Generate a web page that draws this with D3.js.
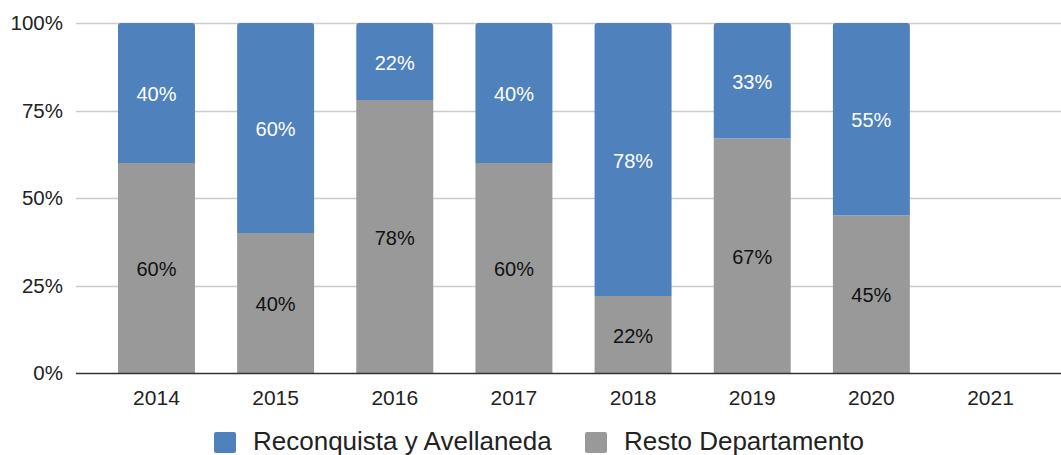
<!DOCTYPE html>
<html>
<head>
<meta charset="utf-8">
<script src="https://cdn.jsdelivr.net/npm/d3@7"></script>
<style>
  body { margin: 0; background: #fff; }
  svg { display: block; font-family: "Liberation Sans", Arial, sans-serif; }
</style>
</head>
<body>
<svg width="1061" height="455"></svg>
<script>
const years = ['2014', '2015', '2016', '2017', '2018', '2019', '2020', '2021'];
const reconquista = [40, 60, 22, 40, 78, 33, 55, null];
const resto = [60, 40, 78, 60, 22, 67, 45, null];
const yTicks = [0, 0.25, 0.5, 0.75, 1];
const seriesNames = ['Reconquista y Avellaneda', 'Resto Departamento'];
const colors = ['#4f81bd', '#999999'];

const svg = d3.select('svg');

const data = years.map((y, i) => ({year: y, resto: resto[i], reconquista: reconquista[i]}));

// escalas
const xScale = d3.scaleBand()
    .domain(years)
    .range([96.9, 1050.1])
    .paddingInner(0.354)
    .paddingOuter(0.177);

const yScale = d3.scaleLinear()
    .domain([0, 1])
    .range([373, 23]);

// lineas de cuadricula
svg.append('g')
    .selectAll('line').data(yTicks.filter(t => t > 0))
    .enter().append('line')
    .attr('x1', 76).attr('x2', 1061)
    .attr('y1', d => Math.round(yScale(d)) + 0.5)
    .attr('y2', d => Math.round(yScale(d)) + 0.5)
    .attr('stroke', '#cccccc')
    .attr('stroke-width', 1.5);

// eje y
const yAxis = d3.axisLeft(yScale)
    .tickValues(yTicks)
    .tickFormat(d3.format('.0%'))
    .tickSize(0)
    .tickPadding(0);

const yAxisG = svg.append('g')
    .attr('transform', 'translate(63,0)')
    .call(yAxis);
yAxisG.select('.domain').remove();
yAxisG.selectAll('text')
    .attr('font-size', 20.5)
    .attr('font-family', '"Liberation Sans", Arial, sans-serif')
    .attr('fill', '#222');

// pila
const stack = d3.stack().keys(['resto', 'reconquista']);
const stacked = stack(data.map(d => ({
    year: d.year,
    resto: d.resto == null ? 0 : d.resto / 100,
    reconquista: d.reconquista == null ? 0 : d.reconquista / 100
})));

const roundTop = (x, y0, y1, w, r) =>
    `M${x},${y0}V${y1 + r}Q${x},${y1} ${x + r},${y1}H${x + w - r}Q${x + w},${y1} ${x + w},${y1 + r}V${y0}Z`;

stacked.forEach((layer, li) => {
    const g = svg.append('g').attr('fill', colors[1 - li]);
    layer.forEach(seg => {
        if (seg[1] - seg[0] <= 0) return;
        const x = xScale(seg.data.year);
        const w = xScale.bandwidth();
        const yTop = yScale(seg[1]);
        const yBot = yScale(seg[0]);
        if (li === stacked.length - 1) {
            g.append('path').attr('d', roundTop(x, yBot, yTop, w, 3));
        } else {
            g.append('rect')
                .attr('x', x).attr('y', yTop)
                .attr('width', w).attr('height', yBot - yTop);
        }
        g.append('text')
            .attr('x', x + w / 2)
            .attr('y', (yTop + yBot) / 2 + 1)
            .attr('dy', '0.35em')
            .attr('text-anchor', 'middle')
            .attr('font-size', 20)
            .attr('fill', li === 1 ? '#ffffff' : '#111111')
            .text(Math.round((seg[1] - seg[0]) * 100) + '%');
    });
});

// linea base
svg.append('line')
    .attr('x1', 76).attr('x2', 1061)
    .attr('y1', yScale(0) + 0.5).attr('y2', yScale(0) + 0.5)
    .attr('stroke', '#333333')
    .attr('stroke-width', 1.5);

// eje x
const xAxisG = svg.append('g')
    .attr('transform', `translate(0, ${yScale(0)})`)
    .call(d3.axisBottom(xScale).tickSize(0).tickPadding(0));
xAxisG.select('.domain').remove();
xAxisG.selectAll('text')
    .attr('y', 32)
    .attr('dy', 0)
    .attr('font-size', 21)
    .attr('font-family', '"Liberation Sans", Arial, sans-serif')
    .attr('fill', '#222');

// leyenda
const legendItems = [
    {name: seriesNames[0], color: colors[0], x: 214},
    {name: seriesNames[1], color: colors[1], x: 585}
];
const legend = svg.append('g');
legendItems.forEach(item => {
    legend.append('rect')
        .attr('x', item.x).attr('y', 432)
        .attr('width', 22).attr('height', 21)
        .attr('rx', 2)
        .attr('fill', item.color);
    legend.append('text')
        .attr('x', item.x + 39)
        .attr('y', 450)
        .attr('font-size', 26)
        .attr('fill', '#222')
        .text(item.name);
});
</script>
</body>
</html>
